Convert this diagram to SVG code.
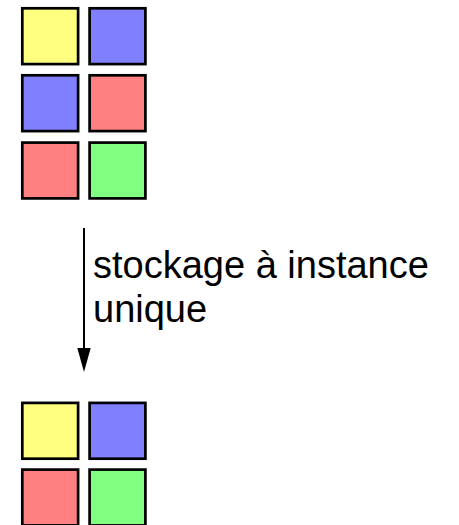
<svg xmlns="http://www.w3.org/2000/svg" width="459" height="525" viewBox="0 0 459 525">
<defs>
<style>
.sq{stroke:#000;stroke-width:2.7}
.y{fill:#ffff80}.b{fill:#8080ff}.r{fill:#ff8080}.g{fill:#80ff80}
.t{font-family:"Liberation Sans",Arial,sans-serif;font-size:38px;fill:#000}
</style>
</defs>
<g id="top">
<g id="t11"><rect class="sq y" x="22.3" y="8.3" width="55.8" height="55.8"/></g>
<g id="t12"><rect class="sq b" x="89.6" y="8.3" width="55.8" height="55.8"/></g>
<g id="t21"><rect class="sq b" x="22.3" y="75.3" width="55.8" height="55.8"/></g>
<g id="t22"><rect class="sq r" x="89.6" y="75.3" width="55.8" height="55.8"/></g>
<g id="t31"><rect class="sq r" x="22.3" y="142.6" width="55.8" height="55.8"/></g>
<g id="t32"><rect class="sq g" x="89.6" y="142.6" width="55.8" height="55.8"/></g>
</g>
<g id="bottom">
<g id="b11"><rect class="sq y" x="22.3" y="402.9" width="55.8" height="55.8"/></g>
<g id="b12"><rect class="sq b" x="89.6" y="402.9" width="55.8" height="55.8"/></g>
<g id="b21"><rect class="sq r" x="22.3" y="469.6" width="55.8" height="55.8"/></g>
<g id="b22"><rect class="sq g" x="89.6" y="469.6" width="55.8" height="55.8"/></g>
</g>
<g id="connectors">
<line x1="84" y1="228" x2="84" y2="350" stroke="#000" stroke-width="2"/>
<path d="M77.3,348 L90.7,348 L84,372 Z" fill="#000"/>
</g>
<g id="label">
<text class="t" x="93" y="278">stockage à instance</text>
<text class="t" x="93" y="321.5">unique</text>
</g>
</svg>
